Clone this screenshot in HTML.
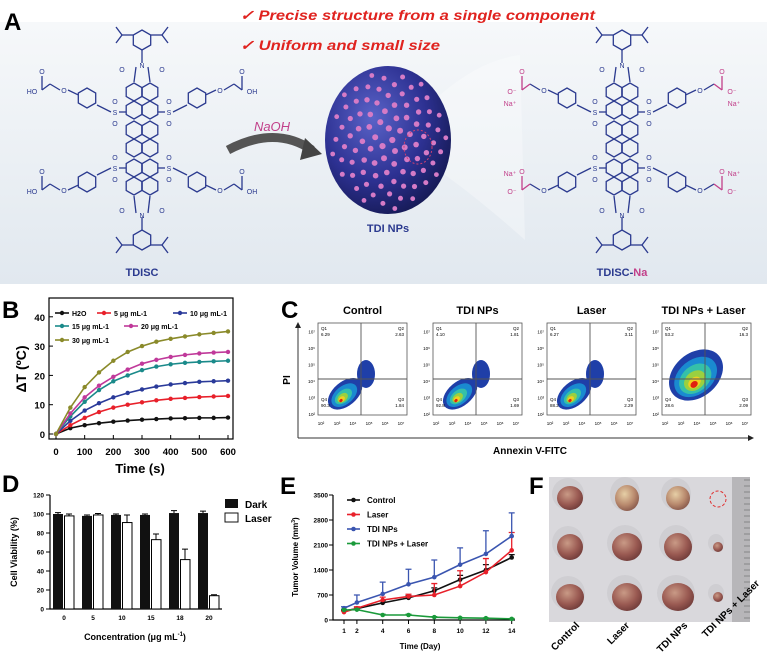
<!DOCTYPE html>
<html><head><meta charset="utf-8"><style>
html,body{margin:0;padding:0;background:#fff}
svg{display:block;font-family:"Liberation Sans",Arial,sans-serif}
.b{font-weight:bold}
</style></head><body>
<svg id="fig" width="767" height="659" viewBox="0 0 767 659" xmlns="http://www.w3.org/2000/svg">
<defs>
<linearGradient id="bgA" x1="0" y1="0" x2="0" y2="1"><stop offset="0" stop-color="#f6f8fa"/><stop offset="1" stop-color="#e1e8ef"/></linearGradient>
<radialGradient id="sph" cx="0.38" cy="0.35" r="0.7"><stop offset="0" stop-color="#5a63c8"/><stop offset="0.6" stop-color="#2d3192"/><stop offset="1" stop-color="#161a55"/></radialGradient>
<radialGradient id="tum" cx="0.4" cy="0.35" r="0.7"><stop offset="0" stop-color="#c99a86"/><stop offset="0.6" stop-color="#9a5a52"/><stop offset="1" stop-color="#6e3a38"/></radialGradient>
<radialGradient id="tum2" cx="0.4" cy="0.35" r="0.7"><stop offset="0" stop-color="#e6cfa6"/><stop offset="0.6" stop-color="#b98a6e"/><stop offset="1" stop-color="#86574a"/></radialGradient>
<marker id="arr" markerWidth="6" markerHeight="6" refX="5" refY="3" orient="auto"><path d="M0,0 L6,3 L0,6 z" fill="#222"/></marker>
</defs>

<!-- Panel A -->
<g>
<rect x="0" y="22" width="767" height="262" fill="url(#bgA)"/>
<text x="4" y="30" class="b" font-size="24">A</text>
<text x="240" y="20" class="b" font-size="14" font-style="italic" fill="#e0231f" textLength="355" lengthAdjust="spacingAndGlyphs">✓  Precise structure from a single component</text>
<text x="240" y="50" class="b" font-size="14" font-style="italic" fill="#e0231f" textLength="200" lengthAdjust="spacingAndGlyphs">✓  Uniform and small size</text>
<path d="M228,150 Q275,125 312,150" fill="none" stroke="#555" stroke-width="9"/>
<path d="M305,138 L322,154 L300,160 z" fill="#444"/>
<text x="272" y="131" text-anchor="middle" font-size="13" font-style="italic" fill="#c2408a">NaOH</text>
<path d="M440,95 Q480,60 520,55 L525,240 Q480,200 445,175 z" fill="#ffffff" opacity="0.3"/>
<ellipse cx="388" cy="140" rx="63" ry="74" fill="url(#sph)"/>
<g id="dots"></g>
<ellipse cx="418" cy="147" rx="14" ry="17" fill="none" stroke="#d04070" stroke-dasharray="2,2"/>
<text x="388" y="232" text-anchor="middle" class="b" font-size="11" fill="#2b3a8f">TDI NPs</text>
<g id="molL"></g>
<g id="molR"></g>
<text x="142" y="276" text-anchor="middle" class="b" font-size="11" fill="#2b3a8f">TDISC</text>
<text x="622" y="276" text-anchor="middle" class="b" font-size="11" fill="#2b3a8f">TDISC-<tspan fill="#c2408a">Na</tspan></text>
</g>

<!-- Panel B -->
<g id="panelB">
<text x="2" y="318" class="b" font-size="24">B</text>
<rect x="49" y="298" width="184" height="141" fill="none" stroke="#000" stroke-width="1.2"/>
<text x="140" y="473" text-anchor="middle" class="b" font-size="13">Time (s)</text>
<text transform="translate(26,369) rotate(-90)" text-anchor="middle" class="b" font-size="14">ΔT (ºC)</text>
</g>

<!-- Panel C -->
<g id="panelC">
<text x="281" y="318" class="b" font-size="24">C</text>
<line x1="298" y1="438" x2="298" y2="323" stroke="#333" marker-end="url(#arr)"/>
<line x1="298" y1="438" x2="753" y2="438" stroke="#333" marker-end="url(#arr)"/>
<text transform="translate(290,380) rotate(-90)" text-anchor="middle" class="b" font-size="10">PI</text>
<text x="530" y="454" text-anchor="middle" class="b" font-size="10">Annexin V-FITC</text>
</g>

<!-- Panel D -->
<g id="panelD">
<text x="2" y="492" class="b" font-size="24">D</text>
<text transform="translate(17,552) rotate(-90)" text-anchor="middle" class="b" font-size="9">Cell Viability (%)</text>
<text x="135" y="640" text-anchor="middle" class="b" font-size="9">Concentration (μg mL<tspan font-size="6" dy="-4">-1</tspan><tspan dy="4">)</tspan></text>
<rect x="225" y="499" width="13" height="9" fill="#111"/>
<text x="245" y="508" class="b" font-size="10">Dark</text>
<rect x="225" y="513" width="13" height="9" fill="#fff" stroke="#111"/>
<text x="245" y="522" class="b" font-size="10">Laser</text>
</g>

<!-- Panel E -->
<g id="panelE">
<text x="280" y="494" class="b" font-size="24">E</text>
<text transform="translate(298,557) rotate(-90)" text-anchor="middle" class="b" font-size="8">Tumor Volume (mm<tspan font-size="5" dy="-3">3</tspan><tspan dy="3">)</tspan></text>
<text x="420" y="649" text-anchor="middle" class="b" font-size="8">Time (Day)</text>
</g>

<!-- Panel F -->
<g id="panelF">
<text x="529" y="494" class="b" font-size="24">F</text>
<rect x="549" y="477" width="201" height="145" fill="#d9d8dc"/>
<rect x="732" y="477" width="18" height="145" fill="#b7b6b9"/>
<g id="ruler"></g>
<g id="tumors"></g>
<circle cx="718" cy="499" r="8" fill="none" stroke="#e03030" stroke-dasharray="3,2"/>
<text transform="translate(580,626) rotate(-45)" text-anchor="end" class="b" font-size="10">Control</text>
<text transform="translate(630,626) rotate(-45)" text-anchor="end" class="b" font-size="10">Laser</text>
<text transform="translate(688,626) rotate(-45)" text-anchor="end" class="b" font-size="10">TDI NPs</text>
<text transform="translate(760,584) rotate(-45)" text-anchor="end" class="b" font-size="10">TDI NPs + Laser</text>
</g>
</svg>
<script>
// ---------- Panel B data ----------
const timesB = [0,50,100,150,200,250,300,350,400,450,500,550,600];
const h2o = [0,2,3,3.7,4.2,4.6,4.9,5.1,5.3,5.4,5.5,5.5,5.6];
const c5 = [0,3,5.5,7.5,9,10,10.8,11.5,12,12.3,12.6,12.8,13];
const c10 = [0,4.5,8,10.5,12.5,14,15.2,16.2,16.9,17.4,17.8,18,18.2];
const c15 = [0,6,11,15,18,20,21.8,23,23.8,24.3,24.6,24.8,25];
const c20 = [0,7,12.5,16.5,19.5,22,24,25.3,26.3,27,27.5,27.8,28];
const c30 = [0,9,16,21,25,28,30,31.5,32.5,33.3,34,34.5,35];
const seriesNamesB = ["H2O","5 μg mL-1","10 μg mL-1","15 μg mL-1","20 μg mL-1","30 μg mL-1"];
const xTicksB = [0,100,200,300,400,500,600];
const yTicksB = [0,10,20,30,40];
// ---------- Panel C data ----------
const flowTitles = ["Control","TDI NPs","Laser","TDI NPs + Laser"];
const q1 = ["6.29","4.10","6.27","53.2"];
const q2 = ["2.63","1.81","3.11","16.3"];
const q3 = ["1.84","1.69","2.29","2.09"];
const q4 = ["90.3","92.8","88.2","28.6"];
// ---------- Panel D data ----------
const concCats = ["0","5","10","15","18","20"];
const darkVals = [100,98,99,99,101,101];
const darkErr = [1.5,1,1,1,2.5,2];
const laserVals = [98,99,91,73,52,14];
const laserErr = [2,1.5,8,6,11,1];
const yTicksD = [0,20,40,60,80,100,120];
// ---------- Panel E data ----------
const days = [1,2,4,6,8,10,12,14];
const ctrlVol = [250,320,480,620,820,1130,1400,1750];
const ctrlErr = [30,40,60,60,80,120,150,80];
const laserVol = [220,330,560,660,700,950,1340,1950];
const laserVolErr = [30,40,80,60,320,430,380,500];
const tdiVol = [330,490,730,1000,1200,1550,1850,2350];
const tdiErr = [40,210,330,420,480,470,650,650];
const comboVol = [280,290,140,140,80,60,50,30];
const comboErr = [20,20,20,20,15,10,10,10];
const yTicksE = [0,700,1400,2100,2800,3500];
const legendE = ["Control","Laser","TDI NPs","TDI NPs + Laser"];

const NS = "http://www.w3.org/2000/svg";
function mk(parent, tag, attrs, txt){const e=document.createElementNS(NS,tag);for(const k in attrs)e.setAttribute(k,attrs[k]);if(txt!==undefined)e.textContent=txt;parent.appendChild(e);return e;}

// ---------- Panel A decor ----------
(function(){
  const g=document.getElementById('dots');
  for(let i=0;i<90;i++){
    const a=i*2.39996, r=Math.sqrt((i+0.5)/90);
    const x=388+Math.cos(a)*r*58, y=140+Math.sin(a)*r*70;
    const el=mk(g,'circle',{cx:x.toFixed(1),cy:y.toFixed(1),r:(3.2-r*0.8).toFixed(1),fill:'#d57bc6'});
    
    
  }
})();
function hex(g,cx,cy,r,col){
  let p=[];for(let k=0;k<6;k++){const a=Math.PI/180*(30+60*k);p.push((cx+r*Math.cos(a)).toFixed(1)+','+(cy+r*Math.sin(a)).toFixed(1));}
  const el=mk(g,'polygon',{points:p.join(' '),fill:'none',stroke:col,'stroke-width':1.3});
  
  
}
function ln(g,x1,y1,x2,y2,col){
  const el=mk(g,'line',{x1,y1,x2,y2,stroke:col,'stroke-width':1.3});
  
  
}
function lbl(g,x,y,t,col){
  const el=mk(g,'text',{x,y,'text-anchor':'middle','font-size':7,fill:col},t);
  
  
}
function molecule(id,cx,na){
  const g=document.getElementById(id), c='#2b3a8f', p=na?'#c2408a':c;
  [92,110,130,148,168,186].forEach(y=>{hex(g,cx-8,y,9,c);hex(g,cx+8,y,9,c);});
  hex(g,cx,40,10,c);hex(g,cx,240,10,c);
  ln(g,cx,50,cx,63,c);ln(g,cx,217,cx,230,c);
  lbl(g,cx,68,'N',c);lbl(g,cx,218,'N',c);
  lbl(g,cx-20,72,'O',c);lbl(g,cx+20,72,'O',c);lbl(g,cx-20,213,'O',c);lbl(g,cx+20,213,'O',c);
  ln(g,cx-6,67,cx-8,82,c);ln(g,cx+6,67,cx+8,82,c);ln(g,cx-6,213,cx-8,196,c);ln(g,cx+6,213,cx+8,196,c);
  [[-1,35],[1,35],[-1,245],[1,245]].forEach(([s,y])=>{ln(g,cx+s*9,y,cx+s*20,y,c);ln(g,cx+s*20,y,cx+s*26,y-8,c);ln(g,cx+s*20,y,cx+s*26,y+8,c);});
  [[-1,112,98,90],[1,112,98,90],[-1,168,182,190],[1,168,182,190]].forEach(([s,sy,py,oy])=>{
    ln(g,cx+s*16,sy,cx+s*23,sy,c);lbl(g,cx+s*27,sy+3,'S',c);lbl(g,cx+s*27,sy-8,'O',c);lbl(g,cx+s*27,sy+14,'O',c);
    ln(g,cx+s*31,sy,cx+s*45,(sy+py)/2,c);hex(g,cx+s*55,py,10,c);
    ln(g,cx+s*64,py+(oy-py)*0.4,cx+s*74,oy,c);lbl(g,cx+s*78,oy+3,'O',c);
    ln(g,cx+s*82,oy,cx+s*92,oy-6,c);ln(g,cx+s*92,oy-6,cx+s*100,oy,p);
    ln(g,cx+s*100,oy,cx+s*100,oy-14,p);lbl(g,cx+s*100,oy-16,'O',p);
    lbl(g,cx+s*110,oy+4,na?'O⁻':(s<0?'HO':'OH'),p);
    if(na) lbl(g,cx+s*112,oy+(py<140?16:-14),'Na⁺',p);
  });
}
molecule('molL',142,false);
molecule('molR',622,true);

// ---------- Panel B ----------
(function(){
  const g=document.getElementById('panelB');
  const xB=t=>56+t/600*172, yB=v=>434-v*2.93;
  xTicksB.forEach(t=>{
    const tk=mk(g,'line',{x1:xB(t),y1:439,x2:xB(t),y2:435,stroke:'#000'});
    
    
    const tl=mk(g,'text',{x:xB(t),y:455,'text-anchor':'middle','font-size':9.5,'font-weight':'bold'},t);
    
    
  });
  yTicksB.forEach(v=>{
    const tk=mk(g,'line',{x1:49,y1:yB(v),x2:53,y2:yB(v),stroke:'#000'});
    
    
    const tl=mk(g,'text',{x:45,y:yB(v)+4,'text-anchor':'end','font-size':9.5,'font-weight':'bold'},v);
    
    
  });
  const all=[h2o,c5,c10,c15,c20,c30];
  const cols=['#111','#e8202a','#2a3a9a','#1a8a8a','#c0399a','#8a8a2a'];
  all.forEach((s,i)=>{
    const pl=mk(g,'polyline',{points:s.map((v,j)=>xB(timesB[j])+','+yB(v)).join(' '),fill:'none',stroke:cols[i],'stroke-width':1.6});
    
    
    s.forEach((v,j)=>{
      const m=mk(g,'circle',{cx:xB(timesB[j]),cy:yB(v),r:2.2,fill:cols[i]});
      
      
    });
  });
  const lpos=[[55,313],[97,313],[173,313],[55,326],[124,326],[55,340]];
  seriesNamesB.forEach((n,i)=>{
    const [x,y]=lpos[i];
    const l=mk(g,'line',{x1:x,y1:y,x2:x+14,y2:y,stroke:cols[i],'stroke-width':1.6});
    
    
    const m=mk(g,'circle',{cx:x+7,cy:y,r:2.2,fill:cols[i]});
    
    
    const t=mk(g,'text',{x:x+17,y:y+3,'font-size':7,'font-weight':'bold'},n);
    
    
  });
})();

// ---------- Panel C ----------
(function(){
  const g=document.getElementById('panelC');
  const boxX=[318,433,547,662], w=89;
  flowTitles.forEach((tt,i)=>{
    const x0=boxX[i];
    const t=mk(g,'text',{x:x0+w/2+ (i==3?-3:0),y:314,'text-anchor':'middle','font-size':11,'font-weight':'bold'},tt);
    
    
    const r=mk(g,'rect',{x:x0,y:323,width:w,height:92,fill:'#fff',stroke:'#555','stroke-width':0.8});
    
    
    const bx=x0+34, by=(i==3?375:388);
    const layers = i==3
      ? [[30,22,'#1f3fa8'],[24,17,'#1a8ad0'],[18,13,'#35c0a8'],[12,9,'#9ad040'],[7,5,'#f0d020'],[4,3,'#e02010']]
      : [[20,12,'#1f3fa8'],[15,9,'#1a8ad0'],[10,6,'#35c0a8'],[6,4,'#9ad040'],[3.5,2.5,'#f0d020'],[1.8,1.4,'#e02010']];
    const ex = i==3 ? 0 : -9;
    layers.forEach(([rx,ry,col],k)=>{
      const e=mk(g,'ellipse',{cx:bx+ex-k*1.5,cy:by+(i==3?k*1.2:k*0.5),rx,ry,fill:col,transform:`rotate(-40 ${bx} ${by})`});
      
      
    });
    if(i<3){
      const e=mk(g,'ellipse',{cx:bx+14,cy:by-14,rx:9,ry:14,fill:'#1f3fa8'});
      
      
    }
    const vx=x0+43;
    const v=mk(g,'line',{x1:vx,y1:323,x2:vx,y2:415,stroke:'#555','stroke-width':0.9});
    
    
    const h=mk(g,'line',{x1:x0,y1:379,x2:x0+w,y2:379,stroke:'#555','stroke-width':0.9});
    
    
    [['Q1',q1[i],x0+3,330,'start'],['Q2',q2[i],x0+w-3,330,'end'],['Q4',q4[i],x0+3,401,'start'],['Q3',q3[i],x0+w-3,401,'end']].forEach(([q,val,x,y,a])=>{
      const a1=mk(g,'text',{x,y,'font-size':4.5,'text-anchor':a},q);
      
      
      const a2=mk(g,'text',{x,y:y+6,'font-size':4.5,'text-anchor':a},val);
      
      
    });
    for(let k=2;k<=7;k++){
      const ty=mk(g,'text',{x:x0-3,y:415-(k-2)*16.5+1,'font-size':4.5,'text-anchor':'end'},'10'+['²','³','⁴','⁵','⁶','⁷'][k-2]);
      
      
      const tx=mk(g,'text',{x:x0+3+(k-2)*16,y:425,'font-size':4.5,'text-anchor':'middle'},'10'+['²','³','⁴','⁵','⁶','⁷'][k-2]);
      
      
    }
  });
})();

// ---------- Panel D ----------
(function(){
  const g=document.getElementById('panelD');
  const xD=i=>64+i*29, yD=v=>609-v*0.95;
  const ax=mk(g,'path',{d:'M50,495 L50,609 L222,609',fill:'none',stroke:'#000','stroke-width':1.2});
  
  
  yTicksD.forEach(v=>{
    const tk=mk(g,'line',{x1:46,y1:yD(v),x2:50,y2:yD(v),stroke:'#000'});
    
    
    const tl=mk(g,'text',{x:44,y:yD(v)+2.5,'text-anchor':'end','font-size':6.5,'font-weight':'bold'},v);
    
    
  });
  concCats.forEach((c,i)=>{
    const tl=mk(g,'text',{x:xD(i),y:620,'text-anchor':'middle','font-size':6.5,'font-weight':'bold'},c);
    
    
    const eb1=mk(g,'path',{d:`M${xD(i)-6},${yD(darkVals[i])} V${yD(darkVals[i]+darkErr[i])} M${xD(i)-9},${yD(darkVals[i]+darkErr[i])} h6`,stroke:'#000',fill:'none'});
    
    
    const b1=mk(g,'rect',{x:xD(i)-11,y:yD(darkVals[i]),width:10,height:yD(0)-yD(darkVals[i]),fill:'#111'});
    
    
    const eb2=mk(g,'path',{d:`M${xD(i)+5},${yD(laserVals[i])} V${yD(laserVals[i]+laserErr[i])} M${xD(i)+2},${yD(laserVals[i]+laserErr[i])} h6`,stroke:'#000',fill:'none'});
    
    
    const b2=mk(g,'rect',{x:xD(i)+0.5,y:yD(laserVals[i]),width:9.5,height:yD(0)-yD(laserVals[i]),fill:'#fff',stroke:'#000','stroke-width':1});
    
    
  });
})();

// ---------- Panel E ----------
(function(){
  const g=document.getElementById('panelE');
  const xE=d=>344+(d-1)*12.9, yE=v=>620-v/700*25;
  const ax=mk(g,'path',{d:'M333,495 L333,620 L515,620',fill:'none',stroke:'#000','stroke-width':1.2});
  
  
  yTicksE.forEach(v=>{
    const tk=mk(g,'line',{x1:329,y1:yE(v),x2:333,y2:yE(v),stroke:'#000'});
    
    
    const tl=mk(g,'text',{x:328,y:yE(v)+2.5,'text-anchor':'end','font-size':6.5,'font-weight':'bold'},v);
    
    
  });
  days.forEach(d=>{
    const tk=mk(g,'line',{x1:xE(d),y1:620,x2:xE(d),y2:624,stroke:'#000'});
    
    
    const tl=mk(g,'text',{x:xE(d),y:633,'text-anchor':'middle','font-size':6.5,'font-weight':'bold'},d);
    
    
  });
  const S=[[ctrlVol,ctrlErr,'#111'],[laserVol,laserVolErr,'#e8202a'],[tdiVol,tdiErr,'#3a55b0'],[comboVol,comboErr,'#1a9a3a']];
  S.forEach(([vals,errs,col],si)=>{
    vals.forEach((v,j)=>{
      const e=mk(g,'path',{d:`M${xE(days[j])},${yE(v)} V${yE(v+errs[j])} M${xE(days[j])-3},${yE(v+errs[j])} h6`,stroke:col,fill:'none','stroke-width':1.3});
      
      
    });
    const pl=mk(g,'polyline',{points:vals.map((v,j)=>xE(days[j])+','+yE(v)).join(' '),fill:'none',stroke:col,'stroke-width':1.6});
    
    
    vals.forEach((v,j)=>{
      const m=mk(g,'circle',{cx:xE(days[j]),cy:yE(v),r:2.3,fill:col});
      
      
    });
    const y=500+si*14.5;
    const l=mk(g,'line',{x1:347,y1:y,x2:360,y2:y,stroke:col,'stroke-width':1.6});
    
    
    const m=mk(g,'circle',{cx:353.5,cy:y,r:2.3,fill:col});
    
    
    const t=mk(g,'text',{x:367,y:y+3,'font-size':8,'font-weight':'bold'},legendE[si]);
    
    
  });
})();

// ---------- Panel F decor ----------
(function(){
  const r=document.getElementById('ruler');
  for(let y=480;y<620;y+=6){
    const l=mk(r,'line',{x1:744,y1:y,x2:750,y2:y,stroke:'#666','stroke-width':0.6});
    
    
  }
  const t=document.getElementById('tumors');
  const cx=[570,627,678,718], cy=[498,547,597];
  const sz=[[[13,12],[12,13],[12,12],null],[[13,13],[15,14],[14,14],[5,5]],[[14,13],[15,14],[16,14],[5,5]]];
  cy.forEach((y,ri)=>cx.forEach((x,ci)=>{
    const s=sz[ri][ci]; if(!s) return;
    const sh=mk(t,'ellipse',{cx:x-2,cy:y-4,rx:s[0]+3,ry:s[1]+4,fill:'#cfced2'});
    
    
    const e=mk(t,'ellipse',{cx:x,cy:y,rx:s[0],ry:s[1],fill:(ci==1||ci==2)&&ri==0?'url(#tum2)':'url(#tum)'});
    
    
  }));
})();
</script>
</body></html>
